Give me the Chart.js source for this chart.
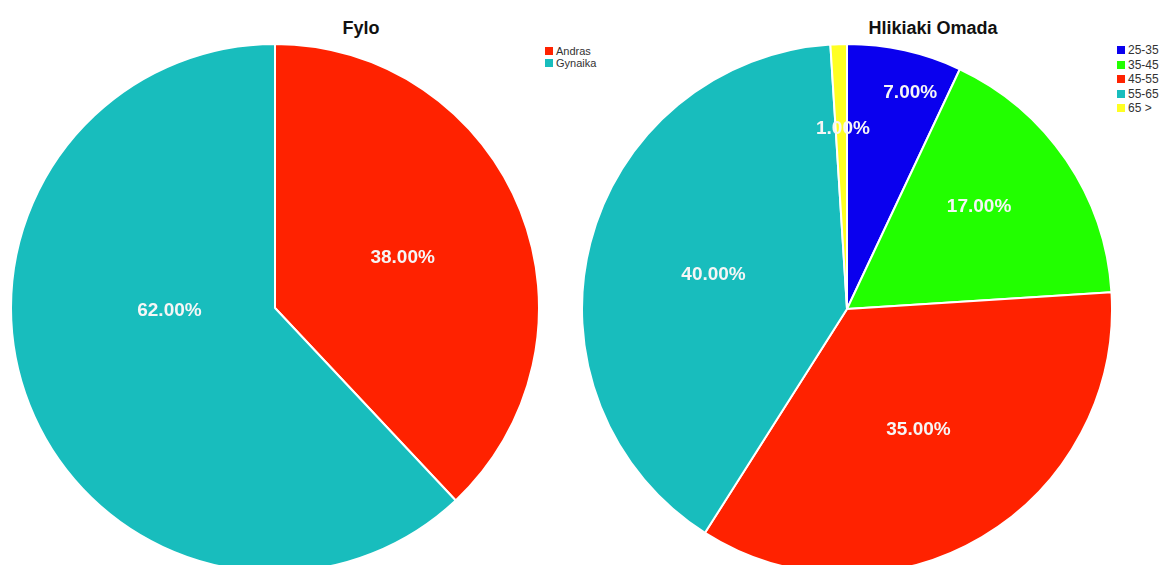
<!DOCTYPE html>
<html>
<head>
<meta charset="utf-8">
<script src="https://cdn.jsdelivr.net/npm/chart.js@4.4.0/dist/chart.umd.min.js"></script>
<style>
  html, body { margin: 0; padding: 0; background: #fff; overflow: hidden; }
  body { width: 1162px; height: 565px; position: relative; font-family: "Liberation Sans", Arial, sans-serif; }
  canvas { position: absolute; }
  .title { position: absolute; font-weight: bold; font-size: 18px; color: #111; transform: translateX(-50%); white-space: nowrap; }
  .legend { position: absolute; color: #333; }
  .legend div { display: flex; align-items: center; }
  .legend span.box { display: inline-block; width: 8px; height: 8px; margin-right: 3px; }
  #legendFylo { font-size: 11px; }
  #legendFylo div { height: 12px; }
  #legendHlikia { font-size: 12px; }
  #legendHlikia div { height: 14.5px; }
</style>
</head>
<body>
<div class="title" style="left:361px; top:18px;">Fylo</div>
<div class="title" style="left:933px; top:18px;">Hlikiaki Omada</div>
<div class="legend" id="legendFylo" style="left:545px; top:45px;"></div>
<div class="legend" id="legendHlikia" style="left:1117px; top:43px;"></div>

<canvas id="fyloChart" width="530" height="530" style="left:10px; top:43px;"></canvas>
<canvas id="hlikiaChart" width="532" height="532" style="left:581px; top:43px;"></canvas>

<script>
// Gender split
const fyloLabels = ['Andras', 'Gynaika'];
const fyloValues = [38, 62];
const fyloColors = ['#ff2200', '#18bdbd'];

// Age groups
const hlikiaLabels = ['25-35', '35-45', '45-55', '55-65', '65 >'];
const hlikiaValues = [7, 17, 35, 40, 1];
const hlikiaColors = ['#0a00ee', '#22ff00', '#ff2200', '#18bdbd', '#ffff22'];

// Writes the percentage of each slice inside it
const sliceLabels = {
    id: 'sliceLabels',
    afterDatasetsDraw(chart, args, opts) {
        const ctx = chart.ctx;
        const ds = chart.data.datasets[0];
        const total = ds.data.reduce((a, b) => a + b, 0);
        const arcs = chart.getDatasetMeta(0).data;
        ctx.save();
        ctx.font = 'bold 19px "Liberation Sans", Arial, sans-serif';
        ctx.fillStyle = '#f6f6f6';
        ctx.textAlign = 'center';
        ctx.textBaseline = 'middle';
        arcs.forEach((arc, i) => {
            const p = arc.getProps(['x', 'y', 'startAngle', 'endAngle', 'outerRadius'], true);
            const shift = (opts.shift && opts.shift[i] || 0) * Math.PI / 180;
            const mid = (p.startAngle + p.endAngle) / 2 + shift;
            const r = p.outerRadius * (opts.radius ? opts.radius[i] : 0.52);
            const text = (ds.data[i] / total * 100).toFixed(2) + '%';
            ctx.fillText(text, p.x + Math.cos(mid) * r, p.y + Math.sin(mid) * r);
        });
        ctx.restore();
    }
};

const buildLegend = (id, labels, colors) => {
    const el = document.getElementById(id);
    labels.forEach((label, i) => {
        const row = document.createElement('div');
        row.innerHTML = '<span class="box" style="background:' + colors[i] + '"></span>' + label;
        el.appendChild(row);
    });
};

const makePie = (canvasId, labels, values, colors, labelOpts) => {
    const ctx = document.getElementById(canvasId).getContext('2d');
    return new Chart(ctx, {
        type: 'pie',
        data: {
            labels: labels,
            datasets: [{
                data: values,
                backgroundColor: colors,
                borderColor: '#ffffff',
                borderWidth: 2
            }]
        },
        options: {
            responsive: false,
            animation: false,
            layout: { padding: 0 },
            plugins: {
                legend: { display: false },
                title: { display: false },
                tooltip: { enabled: false },
                sliceLabels: labelOpts
            }
        },
        plugins: [sliceLabels]
    });
};

makePie('fyloChart', fyloLabels, fyloValues, fyloColors, {
    radius: [0.52, 0.40],
    shift: [0, 20]
});
makePie('hlikiaChart', hlikiaLabels, hlikiaValues, hlikiaColors, {
    radius: [0.85, 0.63, 0.53, 0.52, 0.68],
    shift: [3.7, -3.5, 0, 0, 0.5]
});

buildLegend('legendFylo', fyloLabels, fyloColors);
buildLegend('legendHlikia', hlikiaLabels, hlikiaColors);
</script>
</body>
</html>
